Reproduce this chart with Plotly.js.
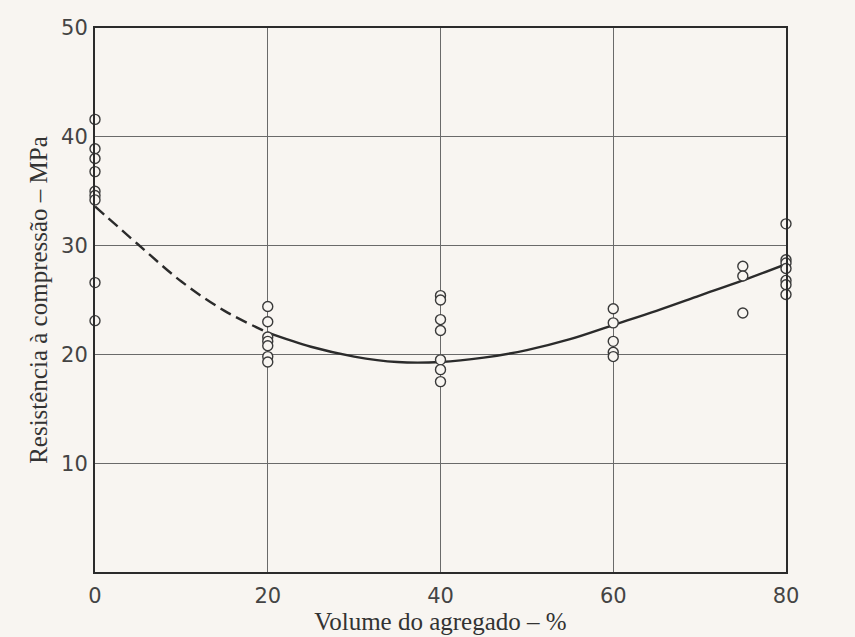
<!DOCTYPE html>
<html><head><meta charset="utf-8">
<script src="https://cdn.plot.ly/plotly-3.0.1.min.js"></script>
<style>html,body{margin:0;padding:0;background:#f8f5f1;}#chart{width:855px;height:637px;}</style>
</head><body><div id="chart"></div>
<script>
// Measured points
const ptsX = [0,0,0,0,0,0,0,0,0,
  20,20,20,20,20,20,20,
  40,40,40,40,40,40,40,
  60,60,60,60,60,
  75,75,75,
  80,80,80,80,80,80,80];
const ptsY = [41.6,38.9,38.0,36.8,35.0,34.6,34.2,26.6,23.1,
  24.4,23.0,21.6,21.2,20.8,19.8,19.3,
  25.4,25.0,23.2,22.2,19.5,18.6,17.5,
  24.2,22.9,21.2,20.2,19.8,
  28.1,27.2,23.8,
  32.0,28.7,28.4,27.9,26.8,26.4,25.5];
// Fitted curve, dashed (extrapolated) part and solid part
const dashX = [0,5,10,15,20];
const dashY = [33.6,30.1,26.7,24.0,22.0];
const solidX = [20,25,30,35,40,45,50,55,60,65,70,75,80];
const solidY = [22.0,20.7,19.8,19.3,19.3,19.7,20.4,21.4,22.7,24.0,25.4,26.8,28.3];
const xTicks = [0,20,40,60,80];
const yTicks = [10,20,30,40,50];

const ink = '#2b2b2b';
const traces = [
  {x: dashX, y: dashY, mode:'lines', line:{color:ink, width:2.4, dash:'12px,6px', shape:'spline'}, hoverinfo:'skip'},
  {x: solidX, y: solidY, mode:'lines', line:{color:ink, width:2.4, shape:'spline'}, hoverinfo:'skip'},
  {x: ptsX, y: ptsY, mode:'markers', cliponaxis:false, marker:{symbol:'circle', size:10, color:'#f8f5f1', line:{color:'#3a3a3a', width:1.4}}}
];
const layout = {
  width:855, height:637,
  margin:{l:95, r:69, t:28, b:65},
  paper_bgcolor:'#f8f5f1', plot_bgcolor:'#f8f5f1',
  showlegend:false,
  xaxis:{range:[0,80], tickvals:xTicks, ticktext:xTicks.map(String), showgrid:true, gridcolor:'#6a6a6a', gridwidth:1,
    showline:true, linecolor:ink, linewidth:2, mirror:true, zeroline:false, ticks:'', ticklabelstandoff:4,
    tickfont:{family:'DejaVu Sans', size:21, color:'#444'},
    title:{text:'Volume do agregado – %', font:{family:'Liberation Serif', size:25, color:'#333'}, standoff:4}},
  yaxis:{range:[0,50], tickvals:yTicks, ticktext:yTicks.map(String), showgrid:true, gridcolor:'#6a6a6a', gridwidth:1,
    showline:true, linecolor:ink, linewidth:2, mirror:true, zeroline:false, ticks:'', ticklabelstandoff:1,
    tickfont:{family:'DejaVu Sans', size:21, color:'#444'},
    title:{text:'Resistência à compressão – MPa', font:{family:'Liberation Serif', size:25, color:'#333'}, standoff:6}}
};
Plotly.newPlot('chart', traces, layout, {staticPlot:true, displayModeBar:false});
</script>
</body></html>
